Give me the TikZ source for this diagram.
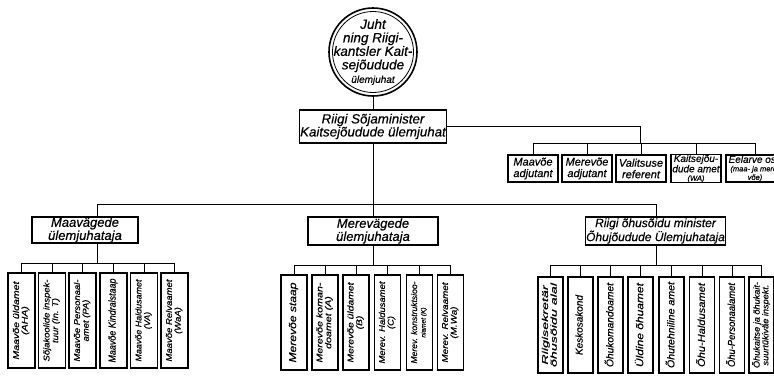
\documentclass[tikz,border=0pt]{standalone}
\usepackage{fontspec}
\setmainfont{Liberation Sans}[ItalicFeatures={FakeBold=0.5}]
\newcommand{\rotlab}[2][82pt]{\rotatebox{90}{\resizebox{#1}{\height}{\begin{tabular}{@{}c@{}}#2\end{tabular}}}}
\begin{document}
\begin{tikzpicture}[x=1pt,y=-1pt,
  box/.style={draw, line width=1.4pt, inner sep=0.5pt, align=center},
  vbox/.style={draw, line width=1.3pt, minimum width=26pt, minimum height=95pt, inner sep=0pt, font=\itshape\fontsize{8.5}{8.5}\selectfont},
  vone/.style={font=\itshape\fontsize{10}{10}\selectfont},
  abox/.style={draw, line width=1.3pt, minimum width=50pt, minimum height=27pt, inner sep=0pt, align=center, font=\itshape\fontsize{11}{11.5}\selectfont},
  conn/.style={line width=0.9pt}]
\useasboundingbox (0,0) rectangle (774,375);

% top circle
\node[circle, draw, line width=1.6pt, minimum size=88pt, inner sep=0pt] (top) at (373,52) {};
\draw[line width=0.8pt] (top.center) circle (40.5pt);
\node[align=center, inner sep=0pt, font=\itshape\fontsize{13.5}{13.5}\selectfont] (toptxt) at (373,52)
  {Juht\\ning Riigi-\\kantsler Kait-\\sejõudude\\{\fontsize{10}{10}\selectfont ülemjuhat}};

% minister box
\node[box, minimum width=143pt, minimum height=33pt, font=\itshape\fontsize{13.3}{13}\selectfont] (sj) at (373,126.5)
  {Riigi Sõjaminister\\Kaitsejõudude ülemjuhat};
\draw[conn] (top.south) -- (sj.north);

% adjutant row
\node[abox] (a1) at (533,168.5) {Maavõe\\adjutant};
\node[abox] (a2) at (587,168.5) {Merevõe\\adjutant};
\node[abox] (a3) at (641,168.5) {Valitsuse\\referent};
\node[abox, font=\itshape\fontsize{10}{8.5}\selectfont] (a4) at (696,168.5) {Kaitsejõu-\\dude amet\\{\fontsize{7.5}{8}\selectfont (WA)}};
\node[abox, minimum width=58pt, font=\itshape\fontsize{10}{8.5}\selectfont] (a5) at (755,168.5) {Eelarve osa\\{\fontsize{7.5}{8}\selectfont (maa- ja mere-}\\{\fontsize{7.5}{8}\selectfont võe)}};
\coordinate (abus) at (640,143);
\draw[conn] (sj.east) -| (abus);
\draw[conn] (a1.north |- abus) -- (a5.north |- abus);
\foreach \i in {1,...,5} \draw[conn] (a\i.north) -- (a\i.north |- abus);

% second level
\node[box, minimum width=106pt, minimum height=26pt, font=\itshape\fontsize{13}{12}\selectfont] (maa) at (85,230) {Maavägede\\ülemjuhataja};
\node[box, minimum width=130pt, minimum height=28pt, font=\itshape\fontsize{13}{12}\selectfont] (mere) at (373,231) {Merevägede\\ülemjuhataja};
\node[box, minimum width=135pt, minimum height=28pt, font=\itshape\fontsize{12}{12.5}\selectfont] (ohu) at (655.5,231) {Riigi õhusõidu minister\\Õhujõudude Ülemjuhataja};

\coordinate (mbusL) at (97,204);
\coordinate (mbusR) at (656,204);
\draw[conn] (sj.south) -- (sj.south |- mbusL);
\draw[conn] (maa.north -| mbusL) -- (mbusL) -- (mbusR) -- (ohu.north -| mbusR);
\draw[conn] (mere.north) -- (mere.north |- mbusL);

% Maavägede subordinates
\node[vbox, minimum width=27pt] (m1) at (21.5,320.5) {\rotlab[78pt]{Maavõe üldamet\\(AHA)}};
\node[vbox, minimum width=27pt] (m2) at (52,320.5) {\rotlab{Sõjakoolide inspek-\\tuur (In. T)}};
\node[vbox, minimum width=27pt] (m3) at (82.5,320.5) {\rotlab{Maavõe Personaal-\\amet (PA)}};
\node[vbox, vone, minimum width=27pt] (m4) at (113.5,320.5) {\rotlab[84pt]{Maavõe Kindralstaap}};
\node[vbox, minimum width=27pt] (m5) at (144,320.5) {\rotlab{Maavõe Haldusamet\\(VA)}};
\node[vbox, minimum width=27pt] (m6) at (174.5,320.5) {\rotlab{Maavõe Relvaamet\\(WaA)}};
\coordinate (maaX) at (97,263);
\draw[conn] (maa.south -| maaX) -- (maaX);
\draw[conn] (m1.north |- maaX) -- (m6.north |- maaX);
\foreach \i in {1,...,6} \draw[conn] (m\i.north) -- (m\i.north |- maaX);

% Merevägede subordinates
\node[vbox, vone] (r1) at (294,322.5) {\rotlab[80pt]{Merevõe staap}};
\node[vbox] (r2) at (325,322.5) {\rotlab[80pt]{Merevõe koman-\\doamet (A)}};
\node[vbox] (r3) at (356,322.5) {\rotlab[80pt]{Merevõe üldamet\\(B)}};
\node[vbox] (r4) at (387.5,322.5) {\rotlab{Merev. Haldusamet\\(C)}};
\node[vbox] (r5) at (419.5,322.5) {\rotlab{Merev. konstruktsioo-\\{\fontsize{6.5}{6.5}\selectfont niamet (K)}}};
\node[vbox] (r6) at (450.5,322.5) {\rotlab[80pt]{Merev. Relvaamet\\(M.Wa)}};
\coordinate (mereX) at (373,265);
\draw[conn] (mere.south) -- (mere.south |- mereX);
\draw[conn] (r1.north |- mereX) -- (r6.north |- mereX);
\foreach \i in {1,...,6} \draw[conn] (r\i.north) -- (r\i.north |- mereX);

% Õhujõudude subordinates
\node[vbox, minimum width=25pt, minimum height=96pt] (o1) at (550.5,325) {\rotlab[84pt]{Riigisekretär\\õhusõidu alal}};
\node[vbox, vone, minimum width=25pt, minimum height=96pt] (o2) at (580.5,325) {\rotlab[60pt]{Keskosakond}};
\node[vbox, vone, minimum width=25pt, minimum height=96pt] (o3) at (610.5,325) {\rotlab[84pt]{Õhukomandoamet}};
\node[vbox, vone, minimum width=25pt, minimum height=96pt] (o4) at (640.5,325) {\rotlab[84pt]{Üldine õhuamet}};
\node[vbox, vone, minimum width=25pt, minimum height=96pt] (o5) at (671.5,325) {\rotlab[86pt]{Õhutehniline amet}};
\node[vbox, vone, minimum width=25pt, minimum height=96pt] (o6) at (702,325) {\rotlab[84pt]{Õhu-Haldusamet}};
\node[vbox, vone, minimum width=25pt, minimum height=96pt] (o7) at (732,325) {\rotlab[84pt]{Õhu-Personaalamet}};
\node[vbox, minimum width=25pt, minimum height=96pt] (o8) at (761.5,325) {\rotlab[86pt]{Õhukaitse ja õhukait-\\suurtükiväe inspekt.}};
\coordinate (ohuX) at (656,265);
\draw[conn] (ohu.south -| ohuX) -- (ohuX);
\draw[conn] (o1.north |- ohuX) -- (o8.north |- ohuX);
\foreach \i in {1,...,8} \draw[conn] (o\i.north) -- (o\i.north |- ohuX);
\end{tikzpicture}
\end{document}
